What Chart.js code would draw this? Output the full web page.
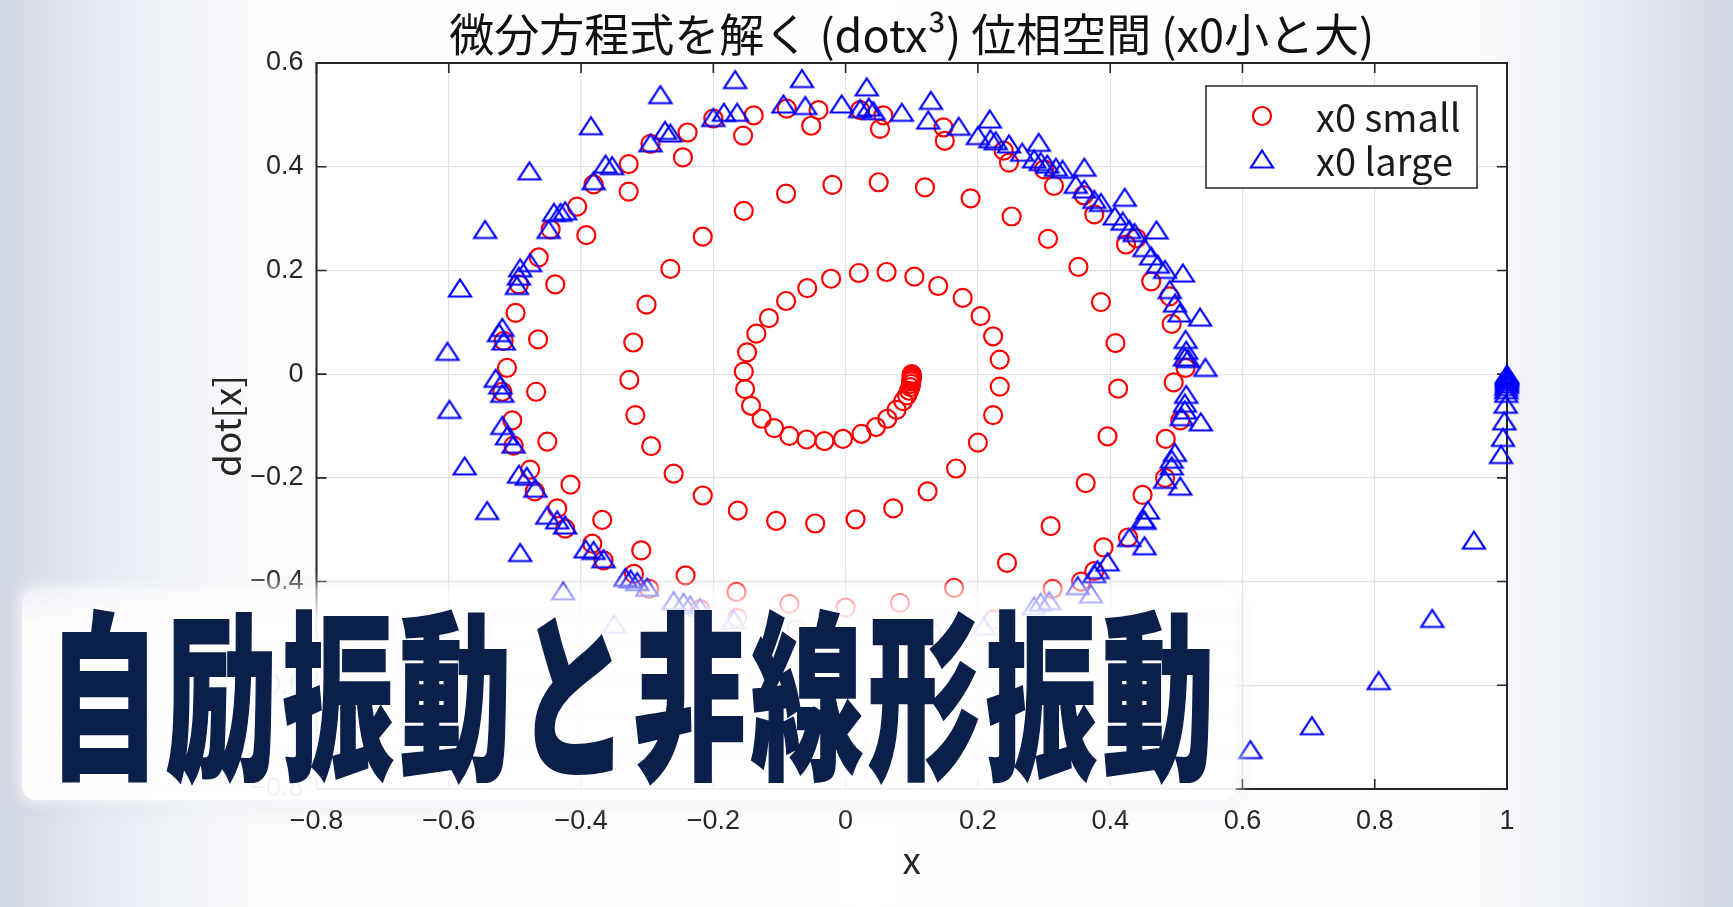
<!DOCTYPE html>
<html lang="ja">
<head>
<meta charset="UTF-8">
<title>微分方程式を解く 位相空間</title>
<script src="https://cdn.jsdelivr.net/npm/chart.js"></script>
<style>
    html, body { margin: 0; padding: 0; }
    body {
        width: 1733px;
        height: 907px;
        overflow: hidden;
        position: relative;
        background: linear-gradient(to right, #d1d7e3 0%, #e7ebf2 6%, #fafbfc 15%, #ffffff 50%, #fafbfc 85%, #e7ebf2 93%, #d1d7e3 100%);
    }
    #wrap { position: absolute; left: 0; top: 0; width: 1733px; height: 907px; }
    .banner {
        position: absolute;
        left: 22px; top: 589px;
        width: 1214px; height: 211px;
        border-radius: 14px;
        background: linear-gradient(to bottom, rgba(255,255,255,0.55) 0px, rgba(255,255,255,0.92) 32px, rgba(255,255,255,0.94) 100%);
        box-shadow: 0 0 14px 4px rgba(255,255,255,0.75), 0 4px 20px rgba(110,125,160,0.18);
    }
    .banner span {
        position: absolute;
        left: 26px; top: 7px;
        font-family: 'Noto Sans CJK JP', sans-serif;
        font-weight: 900;
        font-size: 180px;
        line-height: 1;
        letter-spacing: 9px;
        color: #0b1f4b;
        -webkit-text-stroke: 2px #0b1f4b;
        text-shadow: 0 0 6px #fff, 0 0 12px #fff;
        white-space: nowrap;
        transform: scaleX(0.62);
        transform-origin: left top;
    }
</style>
</head>
<body>
<div id="wrap"><canvas id="phase"></canvas></div>
<div class="banner"><span>自励振動と非線形振動</span></div>

<script>
    // x0 small (red circles) in order along the spiral
    const smallX = [
        0.100, 0.100, 0.100, 0.100, 0.100, 0.099, 0.099, 0.098, 0.096, 0.093,
        0.087, 0.077, 0.063, 0.046, 0.024, -0.004, -0.032, -0.059, -0.085, -0.108,
        -0.127, -0.143, -0.152, -0.154, -0.149, -0.135, -0.116, -0.090, -0.058, -0.022,
        0.020, 0.062, 0.104, 0.140, 0.177, 0.204, 0.223, 0.233, 0.233, 0.223,
        0.200, 0.167, 0.124, 0.072, 0.015, -0.046, -0.105, -0.163, -0.216, -0.260,
        -0.294, -0.318, -0.327, -0.321, -0.301, -0.265, -0.216, -0.154, -0.090, -0.020,
        0.050, 0.120, 0.189, 0.251, 0.306, 0.352, 0.386, 0.408, 0.412, 0.396,
        0.363, 0.310, 0.244, 0.164, 0.082, 0.000, -0.085, -0.165, -0.242, -0.309,
        -0.368, -0.416, -0.451, -0.468, -0.465, -0.439, -0.392, -0.328, -0.246, -0.155,
        -0.052, 0.052, 0.150, 0.247, 0.315, 0.376, 0.424, 0.462, 0.493, 0.496,
        0.484, 0.449, 0.390, 0.313, 0.224, 0.131,
        -0.074, -0.164, -0.220, -0.297, -0.320, -0.366, -0.383, -0.424, -0.436, -0.470,
        -0.477, -0.502, -0.504, -0.519, -0.512, -0.517, -0.499, -0.494, -0.464, -0.446,
        -0.406, -0.381, -0.328, -0.295, -0.239, -0.200, -0.139, -0.089, -0.041, 0.022,
        0.057, 0.148, 0.239, 0.300, 0.360, 0.440, 0.490, 0.514, 0.506, 0.483,
        0.427, 0.376, 0.356
    ];
    const smallY = [
        0.000, -0.002, -0.004, -0.007, -0.010, -0.014, -0.019, -0.025, -0.032, -0.041,
        -0.052, -0.069, -0.086, -0.102, -0.115, -0.125, -0.129, -0.126, -0.119, -0.104,
        -0.086, -0.061, -0.029, 0.005, 0.042, 0.078, 0.108, 0.141, 0.166, 0.184,
        0.195, 0.197, 0.188, 0.170, 0.147, 0.112, 0.073, 0.028, -0.024, -0.079,
        -0.132, -0.182, -0.226, -0.259, -0.280, -0.288, -0.283, -0.263, -0.234, -0.192,
        -0.139, -0.079, -0.011, 0.061, 0.134, 0.203, 0.265, 0.315, 0.348, 0.365,
        0.370, 0.360, 0.339, 0.304, 0.261, 0.207, 0.139, 0.060, -0.028, -0.120,
        -0.210, -0.293, -0.364, -0.412, -0.441, -0.450, -0.443, -0.420, -0.388, -0.340,
        -0.281, -0.213, -0.130, -0.034, 0.067, 0.173, 0.268, 0.352, 0.418, 0.460,
        0.479, 0.473, 0.450, 0.408, 0.363, 0.308, 0.250, 0.179, 0.097, -0.016,
        -0.125, -0.233, -0.334, -0.414, -0.473, -0.500,
        -0.492, -0.470, -0.453, -0.414, -0.385, -0.359, -0.327, -0.298, -0.259, -0.226,
        -0.184, -0.138, -0.089, -0.034, 0.012, 0.064, 0.118, 0.173, 0.225, 0.279,
        0.323, 0.366, 0.405, 0.444, 0.466, 0.493, 0.499, 0.512, 0.509, 0.509,
        0.499, 0.476, 0.431, 0.395, 0.345, 0.262, 0.150, 0.012, -0.089, -0.200,
        -0.315, -0.380, -0.400
    ];

    // x0 large (blue triangles)
    const largeX = [
        1.000, 1.000, 1.000, 1.000, 1.000, 1.000, 1.000, 1.000, 0.999, 0.999,
        0.999, 0.998, 0.996, 0.994, 0.991, 0.950, 0.887, 0.806, 0.705, 0.612,
        -0.350, -0.427, -0.492, -0.542, -0.576, -0.599, -0.602, -0.583, -0.545, -0.478,
        -0.385, -0.280, -0.167, -0.066, 0.032, 0.129, 0.218, 0.292, 0.361, 0.422,
        0.470, 0.510, 0.536, 0.544, 0.537, 0.506, 0.452, 0.371, 0.209,
        -0.169, -0.220, -0.235, -0.245, -0.260, -0.300, -0.315, -0.325, -0.333, -0.366,
        -0.381, -0.393, -0.424, -0.436, -0.451, -0.469, -0.482, -0.494, -0.502, -0.512,
        -0.519, -0.519, -0.522, -0.529, -0.517, -0.524, -0.519, -0.497, -0.494, -0.492,
        -0.477, -0.449, -0.441, -0.431, -0.424, -0.381, -0.363, -0.353, -0.295, -0.273,
        -0.265, -0.200, -0.184, -0.164, -0.094, -0.061, -0.006, 0.022, 0.035, 0.042,
        0.085, 0.125, 0.171, 0.200, 0.219, 0.227, 0.247, 0.267, 0.285, 0.295,
        0.305, 0.318, 0.328, 0.348, 0.361, 0.376, 0.386, 0.407, 0.419, 0.429,
        0.437, 0.452, 0.462, 0.472, 0.483, 0.490, 0.498, 0.505, 0.514, 0.515,
        0.513, 0.518, 0.515, 0.513, 0.513, 0.508, 0.498, 0.493, 0.493, 0.483,
        0.457, 0.450, 0.452, 0.429, 0.396, 0.381, 0.376, 0.351, 0.308, 0.295,
        0.285
    ];
    const largeY = [
        0.000, -0.001, -0.003, -0.005, -0.008, -0.011, -0.015, -0.019, -0.024, -0.030,
        -0.037, -0.058, -0.090, -0.122, -0.155, -0.320, -0.471, -0.591, -0.678, -0.724,
        -0.482, -0.418, -0.344, -0.263, -0.177, -0.068, 0.044, 0.166, 0.279, 0.392,
        0.479, 0.539, 0.568, 0.570, 0.554, 0.528, 0.492, 0.447, 0.399, 0.341,
        0.278, 0.195, 0.110, 0.013, -0.092, -0.216, -0.331, -0.424, -0.486,
        -0.473, -0.450, -0.445, -0.440, -0.437, -0.411, -0.400, -0.395, -0.392, -0.356,
        -0.340, -0.337, -0.291, -0.281, -0.272, -0.220, -0.197, -0.193, -0.135, -0.119,
        -0.099, -0.037, -0.021, -0.008, 0.064, 0.080, 0.090, 0.171, 0.189, 0.205,
        0.215, 0.279, 0.312, 0.312, 0.315, 0.373, 0.405, 0.402, 0.446, 0.470,
        0.465, 0.495, 0.505, 0.505, 0.521, 0.518, 0.521, 0.512, 0.515, 0.508,
        0.505, 0.490, 0.478, 0.460, 0.454, 0.450, 0.444, 0.428, 0.415, 0.410,
        0.405, 0.399, 0.395, 0.366, 0.357, 0.337, 0.331, 0.305, 0.295, 0.279,
        0.273, 0.244, 0.228, 0.212, 0.202, 0.163, 0.137, 0.118, 0.067, 0.046,
        0.033, 0.030, -0.039, -0.056, -0.069, -0.082, -0.151, -0.164, -0.177, -0.203,
        -0.262, -0.279, -0.282, -0.315, -0.362, -0.377, -0.385, -0.408, -0.437, -0.440,
        -0.447
    ];

    const xTicks = [-0.8, -0.6, -0.4, -0.2, 0, 0.2, 0.4, 0.6, 0.8, 1];
    const yTicks = [-0.8, -0.6, -0.4, -0.2, 0, 0.2, 0.4, 0.6];
    const seriesNames = ['x0 small', 'x0 large'];
    const titleText = '微分方程式を解く (dotx³) 位相空間 (x0小と大)';

    const cjkFont = "'Noto Sans CJK JP', 'Noto Sans', sans-serif";
    const tickFont = "'Liberation Sans Narrow', 'Liberation Sans', sans-serif";
    const axisColor = '#262626';

    function fmt(v) {
        return String(Math.round(v * 10) / 10).replace('-', '\u2212');
    }

    // MATLAB style '^' marker (a bit wider than equilateral)
    function makeTriangle() {
        const c = document.createElement('canvas');
        c.width = 28; c.height = 24;
        const g = c.getContext('2d');
        g.strokeStyle = '#0000ff';
        g.lineWidth = 2.2;
        g.lineJoin = 'miter';
        g.beginPath();
        g.moveTo(14, 3.5);
        g.lineTo(25, 20.5);
        g.lineTo(3, 20.5);
        g.closePath();
        g.stroke();
        return c;
    }
    const triangle = makeTriangle();

    const smallPoints = smallX.map((x, i) => ({ x: x, y: smallY[i] }));
    const largePoints = largeX.map((x, i) => ({ x: x, y: largeY[i] }));

    // white axes, box with inward ticks, legend inside the plot
    const matlabAxes = {
        id: 'matlabAxes',
        beforeDraw(chart) {
            const a = chart.chartArea, ctx = chart.ctx;
            ctx.save();
            ctx.fillStyle = '#ffffff';
            ctx.fillRect(a.left, a.top, a.right - a.left, a.bottom - a.top);
            ctx.restore();
        },
        beforeDatasetsDraw(chart) {
            const a = chart.chartArea, ctx = chart.ctx;
            const xs = chart.scales.x, ys = chart.scales.y;
            const len = 10;
            ctx.save();
            ctx.strokeStyle = axisColor;
            ctx.lineWidth = 1.6;
            ctx.beginPath();
            xs.ticks.forEach(t => {
                const px = xs.getPixelForValue(t.value);
                ctx.moveTo(px, a.bottom); ctx.lineTo(px, a.bottom - len);
                ctx.moveTo(px, a.top); ctx.lineTo(px, a.top + len);
            });
            ys.ticks.forEach(t => {
                const py = ys.getPixelForValue(t.value);
                ctx.moveTo(a.left, py); ctx.lineTo(a.left + len, py);
                ctx.moveTo(a.right, py); ctx.lineTo(a.right - len, py);
            });
            ctx.stroke();
            ctx.lineWidth = 2;
            ctx.strokeRect(a.left, a.top, a.right - a.left, a.bottom - a.top);
            ctx.restore();
        },
        afterDatasetsDraw(chart) {
            const a = chart.chartArea, ctx = chart.ctx;
            const left = a.right - 301, top = a.top + 23, w = 271, h = 102;
            const markerRows = [30, 73];
            const textRows = [32, 76];
            ctx.save();
            ctx.fillStyle = '#ffffff';
            ctx.fillRect(left, top, w, h);
            ctx.strokeStyle = axisColor;
            ctx.lineWidth = 1.5;
            ctx.strokeRect(left, top, w, h);

            // marker samples
            ctx.strokeStyle = '#ff0000';
            ctx.lineWidth = 2.2;
            ctx.beginPath();
            ctx.arc(left + 56, top + markerRows[0], 9, 0, Math.PI * 2);
            ctx.stroke();
            ctx.drawImage(triangle, left + 56 - triangle.width / 2, top + markerRows[1] - triangle.height / 2);

            ctx.fillStyle = '#1a1a1a';
            ctx.font = '38px ' + cjkFont;
            ctx.textBaseline = 'middle';
            ctx.textAlign = 'left';
            chart.data.datasets.forEach((ds, i) => {
                ctx.fillText(ds.label, left + 110, top + textRows[i]);
            });
            ctx.restore();
        }
    };

    const ctx = document.getElementById('phase').getContext('2d');
    new Chart(ctx, {
        type: 'scatter',
        data: {
            datasets: [{
                label: seriesNames[0],
                data: smallPoints,
                pointStyle: 'circle',
                pointRadius: 9,
                pointBorderWidth: 2.2,
                pointBorderColor: '#ff0000',
                pointBackgroundColor: 'rgba(0,0,0,0)',
                clip: false,
                order: 1
            }, {
                label: seriesNames[1],
                data: largePoints,
                pointStyle: triangle,
                pointRadius: 12,
                pointBorderColor: '#0000ff',
                pointBackgroundColor: 'rgba(0,0,0,0)',
                clip: false,
                order: 0
            }]
        },
        options: {
            responsive: true,
            maintainAspectRatio: false,
            animation: false,
            events: [],
            layout: { padding: { left: 0, right: 226, top: 8, bottom: 0 } },
            plugins: {
                legend: { display: false },
                tooltip: { enabled: false },
                title: {
                    display: true,
                    text: titleText,
                    fullSize: false,
                    color: '#111111',
                    font: { family: cjkFont, size: 45, weight: 'normal', lineHeight: 1.2 },
                    padding: { top: 0, bottom: 1 }
                }
            },
            scales: {
                x: {
                    type: 'linear',
                    position: 'bottom',
                    min: xTicks[0],
                    max: xTicks[xTicks.length - 1],
                    afterBuildTicks: s => { s.ticks = xTicks.map(v => ({ value: v })); },
                    afterFit: s => { s.height = 118; },
                    grid: { color: '#e2e2e2', lineWidth: 1.2, drawTicks: false },
                    border: { display: false },
                    ticks: {
                        padding: 16,
                        color: axisColor,
                        autoSkip: false,
                        maxRotation: 0,
                        font: { family: tickFont, size: 27 },
                        callback: v => fmt(v)
                    },
                    title: {
                        display: true,
                        text: 'x',
                        color: axisColor,
                        font: { family: cjkFont, size: 37, lineHeight: 1.2 },
                        padding: { top: 0, bottom: 25 }
                    }
                },
                y: {
                    type: 'linear',
                    position: 'left',
                    min: yTicks[0],
                    max: yTicks[yTicks.length - 1],
                    afterBuildTicks: s => { s.ticks = yTicks.map(v => ({ value: v })); },
                    afterFit: s => { s.width = 316.5; },
                    grid: { color: '#e2e2e2', lineWidth: 1.2, drawTicks: false },
                    border: { display: false },
                    ticks: {
                        padding: 13,
                        color: axisColor,
                        autoSkip: false,
                        font: { family: tickFont, size: 27 },
                        callback: v => fmt(v)
                    },
                    title: {
                        display: true,
                        text: 'dot[x]',
                        color: axisColor,
                        font: { family: cjkFont, size: 37, lineHeight: 1.2 },
                        padding: { top: 205, bottom: 0 }
                    }
                }
            }
        },
        plugins: [matlabAxes]
    });
</script>
</body>
</html>
